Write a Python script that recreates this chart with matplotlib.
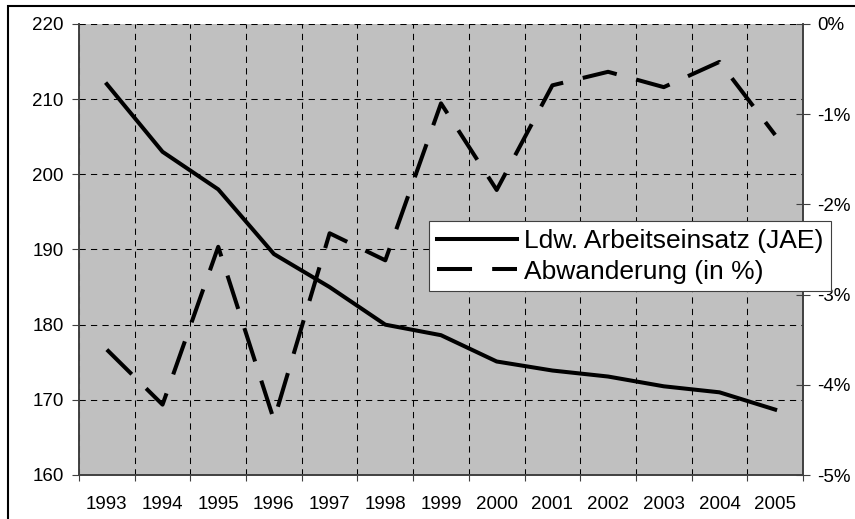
import numpy as np
import matplotlib
matplotlib.use("Agg")
import matplotlib.pyplot as plt
from matplotlib.patches import Rectangle

plt.rcParams['font.family'] = ['Liberation Sans', 'DejaVu Sans']
plt.rcParams['axes.unicode_minus'] = False

# Jahre und Werte
jahre = ['1993', '1994', '1995', '1996', '1997', '1998', '1999',
         '2000', '2001', '2002', '2003', '2004', '2005']
arbeitseinsatz = [212.0, 203.0, 198.0, 189.4, 185.0, 180.0, 178.6,
                  175.1, 173.9, 173.1, 171.8, 171.0, 168.7]
abwanderung = [-3.61, -4.22, -2.47, -4.39, -2.32, -2.62, -0.88,
               -1.84, -0.68, -0.53, -0.70, -0.42, -1.23]

fig = plt.figure(figsize=(8.55, 5.19), dpi=100)
ax = fig.add_axes([79/855, 1 - 475/519, 724/855, 451/519])
ax.set_facecolor('#c0c0c0')

x = np.arange(len(jahre))
lw = 2.9
l1, = ax.plot(x, arbeitseinsatz, color='black', lw=lw, solid_joinstyle='round',
              label='Ldw. Arbeitseinsatz (JAE)')

ax.set_xlim(-0.5, len(jahre) - 0.5)
ax.set_ylim(160, 220)
ax.set_yticks(np.arange(160, 221, 10))
ax.set_xticks(np.arange(-0.5, len(jahre), 1.0))
ax.set_xticklabels([])
ax.set_xticks(x, minor=True)
ax.set_xticklabels(jahre, minor=True)
ax.tick_params(axis='x', which='major', direction='out', length=4.5, width=0.8, color='#404040')
ax.tick_params(axis='x', which='minor', length=0, pad=15, labelsize=13.5)
ax.tick_params(axis='y', direction='out', length=5, width=0.8, color='#404040', pad=6, labelsize=13.5)

ax.grid(True, which='major', color='black', lw=0.75, linestyle=(0, (6, 5)))
ax.set_axisbelow(True)
for s in ['left', 'bottom', 'right']:
    ax.spines[s].set_color('#404040')
    ax.spines[s].set_linewidth(1.2)
ax.spines['top'].set_visible(False)

ax2 = ax.twinx()
l2, = ax2.plot(x, abwanderung, color='black', lw=lw,
               linestyle=(0, (8.7, 5.0)), label='Abwanderung (in %)')
ax2.set_ylim(-5, 0)
ax2.set_yticks(np.arange(-5, 1, 1))
ax2.set_yticklabels([f'{v}%' for v in range(-5, 1)])
ax2.tick_params(axis='y', direction='inout', length=10, width=0.8, color='#404040', pad=5.5, labelsize=13.5)
for s in ['left', 'bottom', 'right']:
    ax2.spines[s].set_color('#404040')
    ax2.spines[s].set_linewidth(1.2)
ax2.spines['top'].set_visible(False)

leg = ax2.legend([l1, l2], [l1.get_label(), l2.get_label()],
                 loc='upper left', bbox_to_anchor=(429/855, 1 - 221/519),
                 bbox_transform=fig.transFigure, fontsize=19,
                 frameon=True, fancybox=False, framealpha=1,
                 edgecolor='#404040', handlelength=3.05, handletextpad=0.25,
                 borderpad=0.3, labelspacing=0.25, borderaxespad=0)
leg.get_frame().set_linewidth(0.8)

# Rahmen um die ganze Grafik
fig.patches.append(Rectangle((8/855, -0.1), 1.2, 1 - 6/519 + 0.1,
                             transform=fig.transFigure, fill=False,
                             edgecolor='black', lw=1.5))

fig.savefig('out.png', dpi=100)
